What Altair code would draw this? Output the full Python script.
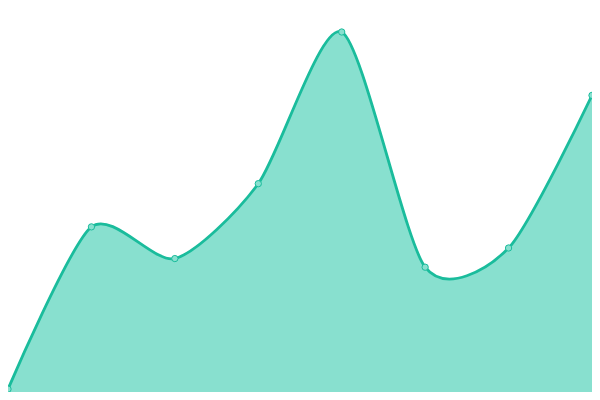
import altair as alt
import pandas as pd

idx = [0, 1, 2, 3, 4, 5, 6, 7]
values = [3, 172, 139, 217, 375, 130, 150, 309]

df = pd.DataFrame({"i": idx, "v": values})

x = alt.X("i:Q", axis=None, scale=alt.Scale(domain=[0, 7], nice=False, zero=False))
y = alt.Y("v:Q", axis=None, scale=alt.Scale(domain=[0, 400], nice=False, zero=False))

base = alt.Chart(df).encode(x=x, y=y)

area = base.mark_area(interpolate="cardinal", tension=0.25, color="#88e0cf", opacity=1)
line = base.mark_line(interpolate="cardinal", tension=0.25, color="#1abc9c", strokeWidth=2.8)
pts = base.mark_point(filled=True, size=40, fill="#88e0cf", stroke="#1abc9c", strokeWidth=1, opacity=1)

chart = (area + line + pts).properties(
    width=584, height=384, padding=0, autosize=alt.AutoSizeParams(type="none")
).configure_view(stroke=None)

chart.save("out.html", embed_options={"renderer": "svg", "actions": False})
